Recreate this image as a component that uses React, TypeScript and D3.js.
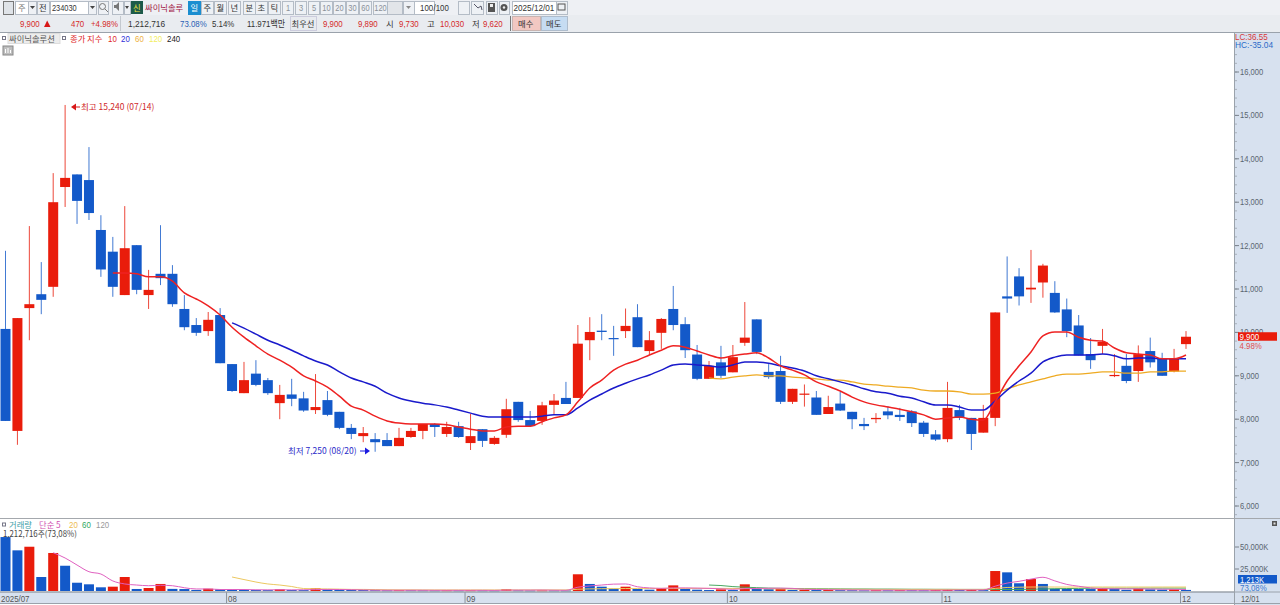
import React from "react";
import * as d3 from "d3";

const opens = [10080,7730,10560,10880,11050,13350,13640,13510,12360,11860,10860,12010,10860,11350,11350,10540,10170,10030,10400,9270,8600,9050,8900,8370,8570,8480,8210,8440,8170,7800,7610,7540,7520,7380,7590,7730,7890,7660,7840,7450,7770,7430,7640,8400,7980,7960,8330,8490,8490,9820,10040,9870,10030,10350,9570,9990,10540,10190,9490,8930,9310,9080,9760,10300,9090,9110,8400,8570,8500,8120,8360,8170,7890,8000,8180,8100,8180,7920,7650,7540,8210,8030,7690,8030,10830,11290,10990,11150,10910,10530,10160,9500,9690,9000,9230,9110,9570,9390,9100,9730];
const closes = [7960,10330,10650,10750,13000,13560,13030,12750,11450,11050,11940,10980,10980,11250,10650,10120,9990,10290,9290,8650,8900,8790,8600,8560,8470,8200,8280,8100,7800,7660,7680,7470,7380,7570,7730,7890,7820,7820,7590,7610,7500,7570,8230,7980,7840,8320,8430,8350,9740,10010,10010,9850,10150,9660,9820,10310,10170,9590,8930,9230,9000,9430,9880,9550,8970,8400,8700,8590,8100,8280,8200,8000,7840,8030,8090,8050,7910,7660,7530,8260,8030,7660,8030,10460,10780,10830,11030,11540,10460,10030,9470,9360,9780,9020,8880,9500,9310,9000,9410,9900];
const highs = [11880,10330,12450,11620,13670,15240,13640,14270,12700,12200,12910,12010,11440,12470,11550,10860,10330,10470,10560,9270,9320,9360,8950,8790,8930,8630,9040,8650,8170,7890,7820,7680,7680,7800,7800,7890,7910,7940,7940,8120,7770,7610,8470,8400,8190,8400,8580,8860,10170,10350,10420,10150,10550,10650,10030,10330,11070,10350,9710,9340,9690,9710,10700,10300,9270,9460,8700,8800,8650,8540,8630,8170,8030,8140,8300,8260,8210,7960,7750,8860,8330,8030,8330,10460,11750,11480,11900,11580,11180,10780,10400,9870,10080,9500,9500,9700,9880,9530,9620,10030];
const lows = [7960,7410,9820,10420,10820,12890,12500,12590,11280,10820,10860,10880,10540,11090,10590,10050,9920,9920,9290,8630,8600,8760,8560,8000,8300,8170,8120,8070,7770,7540,7470,7250,7380,7380,7570,7540,7590,7590,7570,7290,7360,7410,7570,7940,7820,7870,8100,8350,8490,9360,9820,9460,9870,9660,9480,9620,10050,9410,8900,8930,8950,9080,9690,9500,8930,8350,8350,8290,8100,8120,8190,7770,7750,7910,8000,7960,7820,7590,7500,7470,7980,7290,7690,7840,10450,10620,10680,10800,10450,9890,9470,9160,9500,8970,8830,8860,9190,9000,9080,9620];

const ma10 = [11370,11370,11350,11280,11280,11180,10910,10770,10610,10400,10120,9890,9690,9500,9360,9200,9000,8880,8740,8530,8300,8210,8070,7960,7910,7890,7890,7890,7870,7820,7770,7730,7730,7820,7840,7840,7940,8030,8100,8400,8720,8900,9130,9270,9360,9480,9590,9690,9660,9570,9480,9410,9460,9500,9530,9410,9230,9130,9020,8860,8760,8650,8510,8400,8330,8280,8230,8170,8100,8000,8030,8050,8000,7980,8400,8880,9230,9550,9920,10010,10010,9890,9820,9800,9640,9530,9500,9480,9390,9390,9480];
const ma20 = [10220,10100,9960,9820,9710,9590,9460,9340,9250,9090,8950,8860,8760,8600,8490,8420,8370,8330,8280,8210,8140,8070,8050,8050,8050,8050,8070,8100,8100,8260,8440,8580,8720,8830,8930,9020,9130,9250,9270,9250,9230,9200,9250,9320,9320,9290,9230,9180,9110,9000,8930,8860,8790,8700,8630,8600,8530,8490,8400,8330,8330,8280,8210,8210,8420,8670,8880,9060,9320,9430,9480,9480,9480,9500,9460,9390,9410,9410,9390,9390,9390];
const ma60 = [8950,8930,8970,9000,9020,9000,9000,8970,8950,8930,8900,8900,8860,8810,8790,8760,8740,8720,8670,8650,8650,8630,8580,8580,8600,8700,8790,8860,8930,9000,9040,9040,9060,9090,9090,9060,9060,9090,9090,9110,9110];

const volumes = [61300,46200,50300,15900,43200,28700,9400,7600,4200,4900,15900,2300,3400,8000,2400,2200,1200,2600,1900,1400,1200,1100,1000,1900,1100,1000,3100,1800,1500,1300,1100,900,800,1000,900,800,700,800,700,800,700,600,2000,800,600,700,650,600,19000,8000,4900,2600,4900,2300,1500,3400,6400,2300,1500,1100,1900,1100,7600,2600,2000,2200,1300,1500,1100,1300,1000,900,700,900,800,1000,900,800,1000,1500,1200,1300,1000,22700,21200,8800,13600,8000,2500,2400,2300,2200,3000,2600,1400,2600,1900,1600,1900,1213];
const volMa5 = [43500,37500,29500,21900,19300,11400,8000,6800,6000,6500,6000,3700,2300,2300,1700,1700,1700,1400,1300,1400,1300,1400,1600,1800,1700,1500,1200,1000,900,900,900,900,800,800,800,800,800,700,1000,1000,1000,1100,900,800,4300,5700,6800,7800,8000,4800,3500,3000,3500,3500,3300,3000,2500,1900,2700,2900,3100,3300,3000,1900,1700,1500,1300,1200,1100,1000,1000,900,900,900,900,1000,1100,1200,1200,5500,9000,11000,13500,15600,11500,7500,5400,3500,2600,2500,2400,2400,2300,2100,1900,1700];
const volMa20 = [15900,13000,10200,8000,6800,5100,2800,2500,2300,2100,1800,1800,1600,1400,1300,1300,1200,1200,1200,1200,1200,1200,1200,1200,1200,1200,1200,1200,1200,2000,2400,2600,2700,2800,2900,2900,3000,3000,3000,3000,3000,3000,2900,2800,2700,2600,2400,2300,2200,2100,2000,2000,1900,1900,1800,1800,1800,1800,1800,1800,1800,1800,1800,1800,3000,4000,4300,4500,4600,4500,4500,4500,4500,4500,4500,4500,4500,4500,4500,4500,4500];
const volMa60 = [6800,6200,5000,4300,3800,3300,3000,2800,2700,2600,2500,2400,2300,2300,2200,2200,2100,2000,2000,1900,1900,1800,1800,1800,1700,1700,1800,2000,2300,2600,2800,3000,3100,3200,3200,3200,3200,3300,3300,3300,3300];

const priceTicks = [6000,7000,8000,9000,10000,11000,12000,13000,14000,15000,16000];
const minorTicks = d3.range(5800, 16600, 200);
const volTicks = [25000, 50000];
const monthLabels = [{i: 0, label: "2025/07"}, {i: 19, label: "08"}, {i: 39, label: "09"}, {i: 61, label: "10"}, {i: 79, label: "11"}, {i: 99, label: "12"}];
const periodButtons = ["1","3","5","10","20","30","60","120"];
const periodLefts = [282,295,308,320,333,346,359,373];
const periodWidths = [11,11,11,12,12,12,12,14];
const unitButtons = [["일",188],["주",201],["월",214],["년",228],["분",243],["초",255],["틱",268]] as const;

const RED = "#e91c0b";
const BLUE = "#1359c9";
const MA_RED = "#ee2222";
const MA_BLUE = "#1a1acb";
const MA_ORANGE = "#eeaa22";
const FONT = "'Noto Sans CJK KR','Noto Sans',sans-serif";
const NUM = "'Liberation Sans','Noto Sans CJK KR',sans-serif";
const GRAY_TXT = "#444c55";

const x = d3.scaleLinear().domain([0, 99]).range([5.5, 1186]);
const y = d3.scaleLinear().domain([6000, 16000]).range([506, 72]);
const yv = d3.scaleLinear().domain([0, 50000]).range([591, 547]);

function T(p: {x: number; y: number; c?: string; s?: number; f?: string; a?: string; sx?: number; children: React.ReactNode}) {
  const f = p.f ?? FONT;
  const sx = p.sx ?? (f === NUM ? 0.83 : 1);
  return <text transform={`translate(${p.x},${p.y}) scale(${sx},1)`} fill={p.c ?? GRAY_TXT} fontSize={p.s ?? 8.3} fontFamily={f} textAnchor={(p.a ?? "start") as any}>{p.children}</text>;
}
function Btn(p: {x: number; w: number; y?: number; h?: number; fill?: string; stroke?: string}) {
  return <rect x={p.x + 0.5} y={(p.y ?? 1) + 0.5} width={p.w} height={p.h ?? 13} fill={p.fill ?? "#eef1f5"} stroke={p.stroke ?? "#b4bcc6"} strokeWidth={1} />;
}

function lineOf(values: number[], scale: (v: number) => number) {
  const start = 100 - values.length;
  const gen = d3.line<number>().x((_, i) => x(start + i)).y(d => scale(d)).curve(d3.curveMonotoneX);
  return gen(values) ?? "";
}

export default function App() {
  return (
    <svg width={1280} height={605} viewBox="0 0 1280 605" style={{position: "fixed", left: 0, top: 0, display: "block", background: "#fff"}}>
      {/* Toolbar */}
      <rect x={0} y={0} width={1280} height={32} fill="#eef0f4" />
      <rect x={0} y={15} width={1280} height={17} fill="#e9ecf0" />
      <line x1={0} x2={1280} y1={32.5} y2={32.5} stroke="#9aa2ab" />
      <Btn x={3} w={10} fill="#dfe3e8" stroke="#777" />
      <Btn x={15} w={13} fill="#fff" />
      <T x={18} y={11} c="#777">주</T>
      <Btn x={28} w={8} />
      <path d="M30 6h5l-2.5 3z" fill="#444" />
      <Btn x={37} w={12} />
      <T x={39} y={11} c="#333">전</T>
      <Btn x={50} w={38} fill="#fff" />
      <T x={52} y={11} s={9.5} f={NUM} c="#333" sx={0.78}>234030</T>
      <Btn x={88} w={8} />
      <path d="M90 6h5l-2.5 3z" fill="#444" />
      <Btn x={98} w={10} />
      <circle cx={102.5} cy={6.5} r={3} fill="none" stroke="#777" />
      <line x1={105} y1={9} x2={108} y2={12} stroke="#777" />
      <Btn x={112} w={11} />
      <path d="M114 5h2l3-3v9l-3-3h-2z" fill="#777" />
      <Btn x={124} w={6} />
      <path d="M125 6h4l-2 3z" fill="#444" />
      <rect x={131} y={1} width={12} height={13} fill="#1c5a4a" />
      <T x={133} y={11} c="#e8e040">신</T>
      <T x={145} y={11} c="#a01040">싸이닉솔루</T>
      {unitButtons.map(([lab, lx], i) => (
        <g key={i}>
          <Btn x={lx} w={12} fill={i === 0 ? "#1b8ed0" : "#eef1f5"} stroke={i === 0 ? "#1b8ed0" : "#b4bcc6"} />
          <T x={lx + 2.5} y={11} c={i === 0 ? "#fff" : "#333"}>{lab}</T>
        </g>
      ))}
      {periodButtons.map((lab, i) => (
        <g key={lab}>
          <Btn x={periodLefts[i]} w={periodWidths[i]} />
          <T x={periodLefts[i] + periodWidths[i] / 2 + 0.5} y={11} s={9} f={NUM} c="#8a9098" a="middle">{lab}</T>
        </g>
      ))}
      <Btn x={387} w={15} fill="#e2e5e9" />
      <Btn x={403} w={11} />
      <path d="M406 6h5l-2.5 3z" fill="#888" />
      <Btn x={414} w={20} fill="#fff" />
      <T x={420} y={11} s={9.5} f={NUM} c="#333">100</T>
      <T x={433.5} y={11} s={9.5} f={NUM} c="#333">/100</T>
      <Btn x={458} w={11} /><Btn x={471} w={12} /><Btn x={486} w={11} /><Btn x={499} w={10} />
      <rect x={488} y={3} width={7} height={9} fill="#555" /><rect x={490} y={4} width={3} height={3} fill="#eee" />
      <circle cx={504} cy={7.5} r={3.5} fill="#555" /><circle cx={504} cy={7.5} r={1.2} fill="#eee" />
      <path d="M474 4l4 4 3-2 1 4" fill="none" stroke="#556" />
      <Btn x={512} w={44} fill="#fff" />
      <T x={513.5} y={11} s={9.5} f={NUM} c="#333" sx={0.86}>2025/12/01</T>
      <Btn x={556} w={11} />
      <rect x={558} y={4} width={7} height={6} fill="none" stroke="#555" />

      {/* Quote row */}
      <T x={20} y={27} c="#d52a2a" f={NUM} s={9.5}>9,900</T>
      <path d="M44 27l3.2-6.5L50.5 27z" fill="#d81818" />
      <T x={71} y={27} c="#d52a2a" f={NUM} s={9.5}>470</T>
      <T x={91} y={27} c="#d52a2a" f={NUM} s={9.5}>+4.98%</T>
      <line x1={120.5} x2={120.5} y1={16} y2={31} stroke="#c4c9cf" />
      <T x={128} y={27} c="#333" f={NUM} s={9.5} sx={0.88}>1,212,716</T>
      <T x={180} y={27} c="#2a5fb4" f={NUM} s={9.5}>73.08%</T>
      <T x={212} y={27} c="#333" f={NUM} s={9.5}>5.14%</T>
      <T x={247} y={27} c="#333" f={NUM} s={9.5}>11.971백만</T>
      <Btn x={290} w={26} y={16} h={14} fill="#e8ebef" stroke="#ccd" />
      <T x={291.5} y={27} c="#333">최우선</T>
      <T x={323} y={27} c="#d52a2a" f={NUM} s={9.5}>9,900</T>
      <T x={358} y={27} c="#d52a2a" f={NUM} s={9.5}>9,890</T>
      <T x={386} y={27} c="#333">시</T>
      <T x={399} y={27} c="#d52a2a" f={NUM} s={9.5}>9,730</T>
      <T x={427} y={27} c="#333">고</T>
      <T x={440} y={27} c="#d52a2a" f={NUM} s={9.5}>10,030</T>
      <T x={472} y={27} c="#333">저</T>
      <T x={483} y={27} c="#d52a2a" f={NUM} s={9.5}>9,620</T>
      <line x1={510.5} x2={510.5} y1={16} y2={31} stroke="#777" />
      <Btn x={512} w={28} y={16} h={14} fill="#f2c8c2" stroke="#c9b4b0" />
      <T x={518} y={27} c="#333">매수</T>
      <Btn x={541} w={26} y={16} h={14} fill="#c6dcf2" stroke="#aebccc" />
      <T x={546} y={27} c="#333">매도</T>

      {/* Legend */}
      <rect x={2.5} y={36.5} width={3} height={3} fill="#fff" stroke="#778" />
      <rect x={8} y={33.5} width={52} height={10} fill="#ececec" stroke="#ddd" />
      <T x={9} y={42} c="#555">싸이닉솔루션</T>
      <rect x={62.5} y={36.5} width={3} height={3} fill="#fff" stroke="#778" />
      <T x={70} y={42} c="#e02a2a">종가 지수</T>
      <T x={108} y={42} s={9.5} f={NUM} c="#e02a2a">10</T>
      <T x={121} y={42} s={9.5} f={NUM} c="#3030d8">20</T>
      <T x={135} y={42} s={9.5} f={NUM} c="#eeb040">60</T>
      <T x={149} y={42} s={9.5} f={NUM} c="#f2ee60">120</T>
      <T x={167} y={42} s={9.5} f={NUM} c="#222">240</T>
      <rect x={3} y={46} width={10} height={9} fill="#bdbdbd" stroke="#888" />
      <path d="M5.5 53v-4M8 53v-5M10.5 53v-3" stroke="#fff" />

      {/* Annotations */}
      <path d="M71 107l5-3.5v7z" fill="#d81818" />
      <line x1={75} x2={80} y1={107} y2={107} stroke="#d81818" />
      <T x={81} y={110} s={8.5} c="#d0282a">최고 15,240 (07/14)</T>
      <T x={288} y={454} s={8.5} c="#2a2ac8">최저 7,250 (08/20)</T>
      <line x1={360} x2={366} y1={451} y2={451} stroke="#1a1ae0" />
      <path d="M370 451l-5-3.5v7z" fill="#1a1ae0" />

      {/* Candles */}
      {opens.map((o, i) => {
        const c = closes[i];
        const col = c >= o ? RED : BLUE;
        const top = y(Math.max(o, c));
        const bot = y(Math.min(o, c));
        return (
          <g key={i}>
            <line x1={x(i)} x2={x(i)} y1={y(highs[i])} y2={y(lows[i])} stroke={col} strokeWidth={1} opacity={0.8} />
            <rect x={x(i) - 5} width={10} y={top} height={Math.max(bot - top, 1.2)} fill={col} />
          </g>
        );
      })}

      {/* MAs */}
      <path d={lineOf(ma60, y)} fill="none" stroke={MA_ORANGE} strokeWidth={1.3} />
      <path d={lineOf(ma20, y)} fill="none" stroke={MA_BLUE} strokeWidth={1.5} />
      <path d={lineOf(ma10, y)} fill="none" stroke={MA_RED} strokeWidth={1.5} />

      {/* Volume pane */}
      <line x1={0} x2={1280} y1={518.5} y2={518.5} stroke="#a4a8ad" />
      {volumes.map((v, i) => {
        const up = i > 0 && v >= volumes[i - 1];
        return <rect key={i} x={x(i) - 5} width={10} y={yv(v)} height={Math.max(591 - yv(v), 1)} fill={up ? RED : BLUE} />;
      })}
      <path d={lineOf(volMa60, yv)} fill="none" stroke="#48a860" strokeWidth={1} />
      <path d={lineOf(volMa20, yv)} fill="none" stroke="#ecc860" strokeWidth={1} />
      <path d={lineOf(volMa5, yv)} fill="none" stroke="#e060c0" strokeWidth={1} />
      <rect x={2.5} y={523} width={3} height={3} fill="#fff" stroke="#778" />
      <T x={9} y={528} c="#40a0a8">거래량</T>
      <T x={39} y={528} c="#d050b0">단순 5</T>
      <T x={69} y={528} s={9.5} f={NUM} c="#eebb50">20</T>
      <T x={82} y={528} s={9.5} f={NUM} c="#30a860">60</T>
      <T x={96} y={528} s={9.5} f={NUM} c="#999">120</T>
      <T x={3} y={537} s={8.5} c="#444" sx={0.92}>1,212,716주(73,08%)</T>

      {/* Date strip */}
      <rect x={0} y={592} width={1280} height={11} fill="#d7e1ef" />
      <line x1={0} x2={1280} y1={592} y2={592} stroke="#9aa2ab" />
      <line x1={0} x2={1280} y1={603.5} y2={603.5} stroke="#9aa2ab" />
      {monthLabels.map(m => (
        <g key={m.label}>
          {m.i > 0 && <line x1={x(m.i) - 5.5} x2={x(m.i) - 5.5} y1={592} y2={603} stroke="#8a929c" />}
          <T x={m.i === 0 ? 1 : x(m.i) - 4} y={602} s={9.5} f={NUM} c="#555">{m.label}</T>
        </g>
      ))}

      {/* Right axis */}
      <rect x={1234} y={33} width={46} height={572} fill="#d7e1ef" />
      <line x1={1234.5} x2={1234.5} y1={33} y2={605} stroke="#9aa2ab" />
      <line x1={1234} x2={1280} y1={518.5} y2={518.5} stroke="#a4a8ad" />
      <line x1={0} x2={1280} y1={592} y2={592} stroke="#9aa2ab" />
      <line x1={1234} x2={1280} y1={603.5} y2={603.5} stroke="#9aa2ab" />
      {minorTicks.map(t => (
        <line key={t} x1={1235} x2={1237} y1={y(t)} y2={y(t)} stroke="#a8b0ba" />
      ))}
      {priceTicks.map(t => (
        <g key={t}>
          <line x1={1235} x2={1239} y1={y(t)} y2={y(t)} stroke="#7a828c" />
          <T x={1240} y={y(t) + 3} s={9.5} f={NUM} c="#5a6570" sx={0.8}>{d3.format(",")(t)}</T>
        </g>
      ))}
      <T x={1235} y={40} s={9.5} f={NUM} c="#d83838" sx={0.85}>LC:36.55</T>
      <T x={1235} y={48} s={9.5} f={NUM} c="#2a6ac8" sx={0.88}>HC:-35.04</T>
      <rect x={1238} y={y(9900) - 4.5} width={39} height={8.5} fill={RED} />
      <T x={1239.5} y={y(9900) + 3.5} s={9.5} f={NUM} c="#fff">9,900</T>
      <T x={1239.5} y={348.5} s={9.5} f={NUM} c="#e05050">4.98%</T>

      {volTicks.map(t => (
        <g key={t}>
          <line x1={1235} x2={1239} y1={yv(t)} y2={yv(t)} stroke="#7a828c" />
          <T x={1240} y={yv(t) + 3} s={9.5} f={NUM} c="#5a6570" sx={0.8}>{d3.format(",")(t)}K</T>
        </g>
      ))}
      <rect x={1238} y={575} width={39} height={8.5} fill={BLUE} />
      <T x={1240} y={582.5} s={9.5} f={NUM} c="#fff" sx={0.8}>1,213K</T>
      <T x={1240} y={590.5} s={9.5} f={NUM} c="#3a78d0">73,08%</T>
      <T x={1241} y={602} s={9.5} f={NUM} c="#555" sx={0.78}>12/01</T>
      <rect x={1272} y={521} width={5} height={5} fill="#555" />
      <rect x={1273.5} y={522.5} width={2} height={2} fill="#ddd" />
    </svg>
  );
}
